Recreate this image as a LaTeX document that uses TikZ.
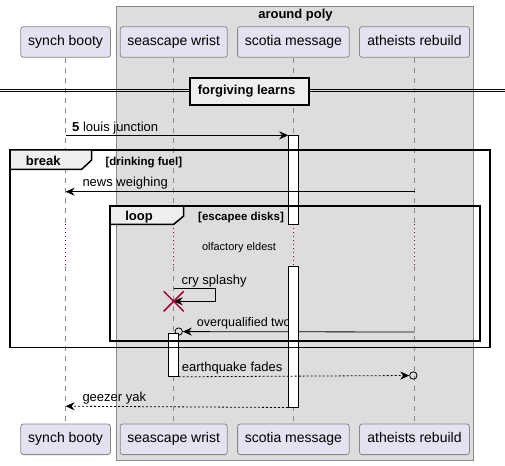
\documentclass[tikz,border=0pt]{standalone}
\usepackage{fontspec}
\setmainfont{Liberation Sans}
\usetikzlibrary{arrows.meta,calc}
\definecolor{partfill}{HTML}{E2E2F0}
\definecolor{partdraw}{HTML}{888888}
\definecolor{grpfill}{HTML}{DDDDDD}
\definecolor{tabfill}{HTML}{EEEEEE}
\definecolor{dred}{HTML}{A80036}
\definecolor{lifeg}{HTML}{888888}
\begin{document}
\begin{tikzpicture}[x=1pt,y=-1pt,
  part/.style={draw=partdraw,fill=partfill,rounded corners=2.5pt,minimum height=30.6pt,inner sep=0pt,font=\fontsize{14}{16}\selectfont,text height=10pt,text depth=3pt,line width=0.8pt},
  life/.style={draw=lifeg,dash pattern=on 5pt off 5pt,line width=0.7pt},
  delayline/.style={draw=dred,dash pattern=on 1pt off 3pt,line width=0.7pt},
  msg/.style={draw=black,line width=0.8pt,-{Stealth[length=9pt,width=8pt,inset=3pt]}},
  ret/.style={msg,dash pattern=on 2pt off 2pt},
  mtext/.style={font=\fontsize{13}{15}\selectfont,anchor=base west,inner sep=0pt},
  frm/.style={draw=black,line width=1.5pt},
  tabshape/.style={draw=black,line width=1.5pt,fill=tabfill},
  ftitle/.style={font=\bfseries\fontsize{13}{15}\selectfont,anchor=base,inner sep=0pt},
  fcond/.style={font=\bfseries\fontsize{11.5}{13}\selectfont,anchor=base west,inner sep=0pt},
  act/.style={draw=black,fill=white,line width=0.8pt,inner sep=0pt,minimum width=9.6pt,anchor=north},
  endcirc/.style={circle,draw=black,line width=0.8pt,minimum size=7.4pt,inner sep=0pt},
]
\useasboundingbox (0,0) rectangle (505,465);

% group box
\draw[draw=partdraw,fill=grpfill,line width=0.8pt] (116.5,6) rectangle (473.5,460);
\node[ftitle] (grptitle) at (295.5,19) {around poly};

% participants
\node[part,minimum width=89.6pt] (sbT) at (65.6,42) {synch booty};
\node[part,minimum width=107pt] (swT) at (173.7,42) {seascape wrist};
\node[part,minimum width=111.6pt] (smT) at (293.4,42) {scotia message};
\node[part,minimum width=110pt] (arT) at (414.5,42) {atheists rebuild};
\node[part,minimum width=89.6pt] (sbB) at (65.6,439.3) {synch booty};
\node[part,minimum width=107pt] (swB) at (173.7,439.3) {seascape wrist};
\node[part,minimum width=111.6pt] (smB) at (293.4,439.3) {scotia message};
\node[part,minimum width=110pt] (arB) at (414.5,439.3) {atheists rebuild};

% y levels
\coordinate (dtop) at (0,224.3);
\coordinate (dbot) at (0,266);
\coordinate (m1) at (0,135.3);
\coordinate (m2) at (0,191.7);
\coordinate (m3a) at (0,288.7);
\coordinate (m3b) at (0,301.3);
\coordinate (m4) at (0,332);
\coordinate (m6) at (0,406.2);

% lifelines
\foreach \p in {sb,sw,sm,ar}{
  \draw[life] (\p T.south) -- (\p T.south |- dtop);
  \draw[delayline] (\p T.south |- dtop) -- (\p T.south |- dbot);
  \draw[life] (\p T.south |- dbot) -- (\p B.north);
}

% divider
\draw[line width=0.8pt] (0,89.2) -- (505,89.2);
\draw[line width=0.8pt] (0,91.9) -- (505,91.9);
\node[draw=black,line width=1.6pt,fill=tabfill,minimum width=118.7pt,minimum height=27pt,inner sep=0pt,font=\bfseries\fontsize{13}{15}\selectfont] (div) at (249.6,91.5) {\hspace*{-6pt}forgiving learns};

% activation 1 on scotia message
\node[act,minimum height=88.9pt] (smA1) at (293.4,135.3) {};

% message 1
\draw[msg] (sbT |- m1) -- (smA1.north west);
\node[mtext] (t1) at (72,131.2) {\textbf{5} louis junction};

% news weighing
\draw[msg] (arT |- m2) -- (sbT |- m2);
\node[mtext] (t2) at (82.3,186.5) {news weighing};

% delay text
\node[font=\fontsize{11}{13}\selectfont,anchor=base,inner sep=0pt] (delay) at (239,250) {olfactory eldest};

% self message cry splashy
\draw[msg] (swT |- m3a) -- (215.7,288.7) -- (215.7,301.3) -- (swT |- m3b);
\node[mtext] (t3) at (181.3,284) {cry splashy};
\coordinate (xc) at (swT |- m3b);
\draw[dred,line width=1.5pt] ($(xc)+(-10,-10)$) -- ($(xc)+(10,10)$);
\draw[dred,line width=1.5pt] ($(xc)+(-10,10)$) -- ($(xc)+(10,-10)$);

% overqualified two
\node[endcirc] (c1) at (178.7,331.6) {};
\draw[msg] (arT |- m4) -- (c1.east);
\node[mtext,font=\fontsize{12.5}{15}\selectfont] (t4) at (196.7,326.7) {overqualified two};

% activation 2 on scotia message, activation on seascape wrist
\node[act,minimum height=140.7pt] (smA2) at (293.4,266) {};
\node[act,minimum height=43.3pt] (swA) at (173.5,332.7) {};

% earthquake fades
\node[endcirc] (c2) at (413.3,375.5) {};
\draw[ret] (swA.south east) -- (c2.west);
\node[mtext] (t5) at (181.7,371.7) {earthquake fades};

% geezer yak
\draw[ret] (smA2.south west) -- (sbT |- m6);
\node[mtext] (t6) at (82.3,401.7) {geezer yak};

% break frame
\draw[frm] (10,150) rectangle (490,347.7);
\draw[tabshape] (10,150) -- (91.7,150) -- (91.7,160) -- (81.7,169.3) -- (10,169.3) -- cycle;
\node[ftitle] (brk) at (43.3,165.5) {break};
\node[fcond] (brkc) at (105.3,165.5) {[drinking fuel]};

% loop frame
\draw[frm] (110,206) rectangle (480,341);
\draw[tabshape] (110,206) -- (183.7,206) -- (183.7,216) -- (173.7,224.3) -- (110,224.3) -- cycle;
\node[ftitle] (lp) at (139,220.7) {loop};
\node[fcond] (lpc) at (198,220.7) {[escapee disks]};
\end{tikzpicture}
\end{document}
